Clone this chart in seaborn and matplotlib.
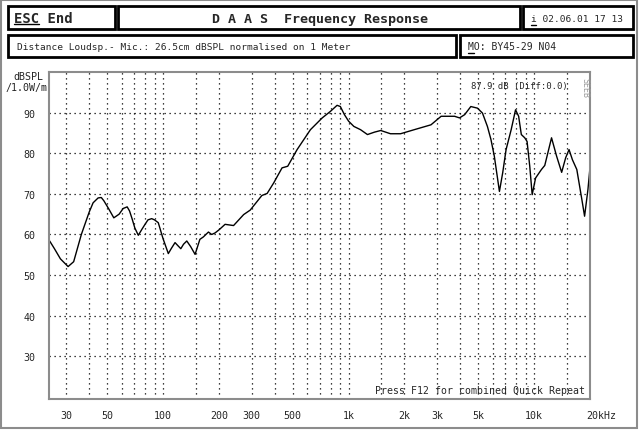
import matplotlib
matplotlib.use("Agg")
import matplotlib.pyplot as plt
from matplotlib.patches import Rectangle
from matplotlib.lines import Line2D
from matplotlib.ticker import FixedLocator, NullFormatter
import pandas as pd
import seaborn as sns

# Messkurve
freq_hz = [24.5, 26, 28, 30.8, 33, 36.3, 40, 42, 44.7, 46.5, 48, 51, 54.3, 58, 61, 64.1, 66,
           68, 70.5, 73.6, 77, 80, 83, 86.9, 90, 94.3, 100, 106.8, 111, 116.1, 120, 124.7,
           129, 134.3, 141, 148.9, 158, 165, 175.7, 183, 191, 201,
           216, 240, 272, 295, 341, 364, 395, 438, 470, 528, 623, 721, 798, 867, 903, 950,
           1000, 1068, 1160, 1264, 1380, 1491, 1682, 1906, 2259, 2780, 3153, 3725, 3963, 4222,
           4558, 4950, 5265, 5600, 5850, 6100, 6500, 6770, 7060, 7520, 7940, 8250, 8530, 8900,
           9160, 9470, 9760, 10180, 10950, 11410, 12410, 13210, 14070, 14790, 15420, 16080,
           16980, 18080, 18700, 19500, 20000]
spl_db = [58.4, 56.5, 54.0, 52.1, 53.3, 60.0, 65.5, 67.8, 69.0, 69.1, 68.3, 66.3, 64.1, 65.0,
          66.4, 66.8, 65.8, 64.0, 61.6, 59.8, 61.3, 62.5, 63.6, 63.9, 63.6, 62.9, 59.0, 55.3,
          56.6, 58.0, 57.3, 56.5, 57.6, 58.4, 57.0, 55.1, 58.8, 59.4, 60.6, 60.0,
          60.4, 61.2, 62.5, 62.2, 64.9, 66.0, 69.6, 70.1, 72.7, 76.4, 76.8, 80.9, 85.8, 88.7,
          90.3, 91.8, 91.5, 89.5, 87.9, 86.6, 85.8, 84.6, 85.2, 85.6, 84.8, 84.8, 85.8, 87.0,
          89.1, 89.1, 88.7, 89.5, 91.5, 91.1, 89.9, 86.6, 83.4, 79.3, 70.6, 75.2, 80.9, 85.8,
          90.7, 89.1, 84.6, 83.8, 82.9, 76.8, 69.8, 73.9, 76.0, 77.0, 83.8, 79.3, 75.3, 78.9,
          80.9, 78.4, 76.0, 68.6, 64.5, 71.1, 76.5]

x_tick_vals = [30, 50, 100, 200, 300, 500, 1000, 2000, 3000, 5000, 10000, 20000]
x_tick_labels = ["30", "50", "100", "200", "300", "500", "1k", "2k", "3k", "5k", "10k", "20kHz"]
x_grid_vals = [30, 40, 50, 60, 70, 80, 90, 100, 150, 200, 300, 400, 500, 600, 700, 800, 900,
               1000, 1500, 2000, 3000, 4000, 5000, 6000, 7000, 8000, 9000, 10000, 15000, 20000]
y_tick_vals = [30, 40, 50, 60, 70, 80, 90]

W, H = 640, 431
MONO = ["DejaVu Sans Mono"]

sns.set_theme(style="white")
plt.rcParams["font.family"] = MONO


def fx(x):
    return x / W


def fy(y):
    return 1 - y / H


def box(fig, x0, y0, x1, y1, **kw):
    fig.patches.append(Rectangle((fx(x0), fy(y1)), fx(x1) - fx(x0), fy(y0) - fy(y1),
                                 transform=fig.transFigure, fill=False, **kw))


def hline(fig, x0, x1, y, **kw):
    fig.lines.append(Line2D([fx(x0), fx(x1)], [fy(y), fy(y)], transform=fig.transFigure, **kw))


fig = plt.figure(figsize=(W / 100, H / 100), dpi=100)
fig.patch.set_facecolor("white")

# aeusserer Rahmen
box(fig, 1, 1, 637, 429, edgecolor="#8c8c8c", linewidth=1.5)

# Kopfzeilen
for (x0, x1) in [(8, 115), (118, 520), (523, 633)]:
    box(fig, x0, 7, x1, 30, edgecolor="black", linewidth=2)
for (x0, x1) in [(8, 456), (460, 633)]:
    box(fig, x0, 36, x1, 58, edgecolor="black", linewidth=2)

fig.text(fx(14), fy(19), "ESC End", fontsize=10, fontweight="bold", va="center", ha="left")
hline(fig, 14, 39, 25, color="black", linewidth=1)
fig.text(fx(320), fy(19), "D A A S  Frequency Response", fontsize=9.6, fontweight="bold",
         va="center", ha="center")
fig.text(fx(531), fy(19), "i 02.06.01 17 13", fontsize=6.8, va="center", ha="left")
hline(fig, 531, 536, 26, color="black", linewidth=1)
fig.text(fx(17), fy(47), "Distance Loudsp.- Mic.: 26.5cm dBSPL normalised on 1 Meter",
         fontsize=6.8, va="center", ha="left")
fig.text(fx(468), fy(47), "MO: BY45-29 N04", fontsize=7, va="center", ha="left")
hline(fig, 468, 474, 54, color="black", linewidth=1)

# Diagramm
ax = fig.add_axes([fx(49), fy(400), fx(590) - fx(49), fy(73) - fy(400)])
df = pd.DataFrame({"freq": freq_hz, "spl": spl_db})
sns.lineplot(data=df, x="freq", y="spl", ax=ax, color="black", linewidth=1.0, sort=False)
ax.set_xscale("log")
ax.set_xlim(24.3, 20000)
ax.set_ylim(19.5, 100)

ax.xaxis.set_major_locator(FixedLocator(x_grid_vals))
ax.xaxis.set_major_formatter(NullFormatter())
ax.xaxis.set_minor_locator(FixedLocator([]))
ax.set_yticks(y_tick_vals)
ax.set_yticklabels([str(v) for v in y_tick_vals], fontsize=7.2)
ax.tick_params(axis="y", length=0, pad=10)
ax.tick_params(axis="x", length=0)
ax.grid(True, color="black", linestyle=(0, (1, 3)), linewidth=0.9)
for s in ax.spines.values():
    s.set_color("#8c8c8c")
    s.set_linewidth(1.5)
ax.set_xlabel("")
ax.set_ylabel("")

for v, lab in zip(x_tick_vals, x_tick_labels):
    if lab.endswith("Hz"):
        ax.text(v * 0.96, -0.035, lab, transform=ax.get_xaxis_transform(), fontsize=7.2,
                ha="left", va="top", clip_on=False)
    else:
        ax.text(v, -0.035, lab, transform=ax.get_xaxis_transform(), fontsize=7.2,
                ha="center", va="top", clip_on=False)

fig.text(fx(28), fy(77), "dBSPL", fontsize=7.2, ha="center", va="center")
fig.text(fx(27), fy(88), "/1.0W/m", fontsize=7.2, ha="center", va="center")

ax.text(0.958, 0.96, "87.9 dB (Diff:0.0)", transform=ax.transAxes, fontsize=6.4,
        ha="right", va="center")
ax.text(0.99, 0.985, "SEEB", transform=ax.transAxes, fontsize=6, color="#9a9a9a",
        rotation=-90, ha="center", va="top")
ax.text(0.99, 0.012, "Press F12 for combined Quick Repeat", transform=ax.transAxes,
        fontsize=7.1, ha="right", va="bottom")

fig.savefig("out.png", dpi=100)
